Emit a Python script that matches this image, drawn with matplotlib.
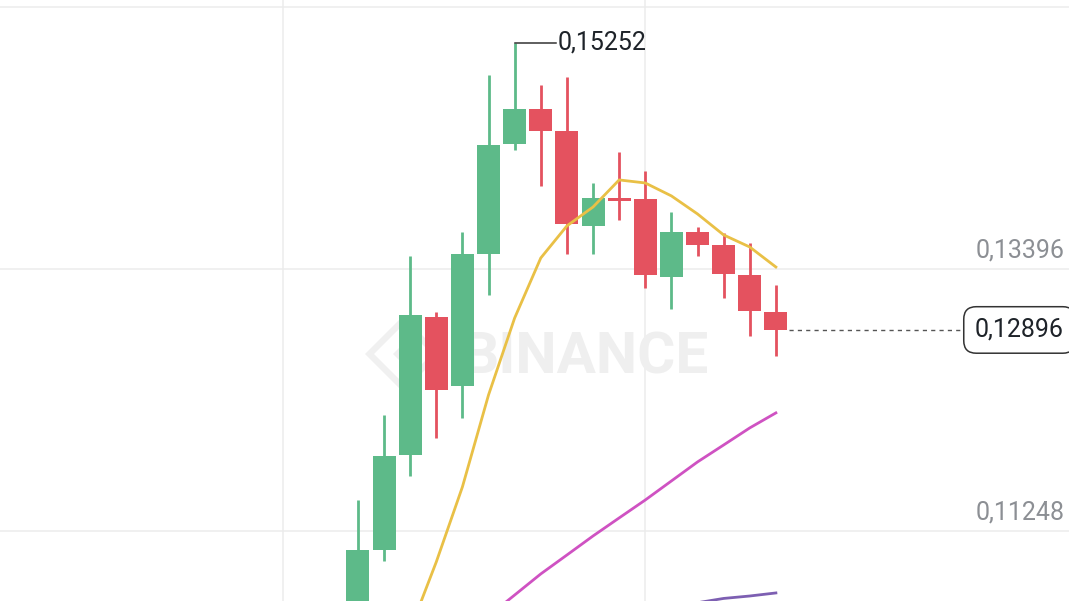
import numpy as np
import matplotlib.pyplot as plt
from matplotlib.patches import Polygon

plt.rcParams['font.family'] = ['Roboto', 'DejaVu Sans']

# candles, index 0 is the leftmost visible candle
opens = [0.1045, 0.11092, 0.11871, 0.13003, 0.12437, 0.13519, 0.14421, 0.14708, 0.14527,
         0.13749, 0.13978, 0.13970, 0.13330, 0.13699, 0.13593, 0.13347, 0.13044]
highs = [0.11502, 0.12199, 0.13503, 0.13044, 0.13699, 0.14986, 0.15252, 0.14904, 0.14970,
         0.14101, 0.14355, 0.14199, 0.13863, 0.13740, 0.13691, 0.13609, 0.13265]
lows = [0.1030, 0.11002, 0.11699, 0.12011, 0.12175, 0.13183, 0.14372, 0.14076, 0.13519,
        0.13519, 0.13798, 0.13240, 0.13068, 0.13503, 0.13158, 0.12847, 0.12683]
closes = [0.11092, 0.11863, 0.13019, 0.12404, 0.13519, 0.14413, 0.14708, 0.14527, 0.13765,
          0.13978, 0.13954, 0.13347, 0.13699, 0.13593, 0.13355, 0.13052, 0.12896]

ma7_idx = [2, 3, 4, 5, 6, 7, 8, 9, 10, 11, 12, 13, 14, 15, 16]
ma7 = [0.10437, 0.10994, 0.11609, 0.12363, 0.12994, 0.13486, 0.13749, 0.13904, 0.14126,
       0.14101, 0.13995, 0.13847, 0.13675, 0.13576, 0.13412]
ma25_idx = [5, 6, 7, 8, 9, 10, 11, 12, 13, 14, 15, 16]
ma25 = [0.10551, 0.10723, 0.10896, 0.11051, 0.11207, 0.11355, 0.11502, 0.11658, 0.11814,
        0.11953, 0.12093, 0.12216]
ma99_idx = [12, 13, 14, 15, 16]
ma99 = [0.10640, 0.10660, 0.10695, 0.10715, 0.10740]

grid_prices = [0.11248, 0.13396, 0.15544]
grid_labels = ['0,11248', '0,13396', '0,15544']
high_label = '0,15252'
last_label = '0,12896'

green = '#5dba89'
red = '#e4525f'

fig = plt.figure(figsize=(10.69, 6.01), dpi=100)
ax = fig.add_axes([0, 0, 1, 1])
ax.set_xlim(-13.70, 27.22)
ax.set_ylim(0.10674, 0.15601)
ax.axis('off')

# grid
for p in grid_prices:
    ax.axhline(p, color='#ececec', lw=1.1, zorder=0)
for gx in [-2.87, 11.0]:
    ax.axvline(gx, color='#ececec', lw=1.1, zorder=0)

# watermark
ax.text(0.547, 0.405, 'BINANCE', transform=fig.transFigure, fontsize=42,
        fontweight='bold', color='#efefef', ha='center', va='center', zorder=0)
cx, cy = 403 / 1069, 1 - 354 / 601
sx, sy = 1 / 1069, 1 / 601
r, w = 38, 9
outer = [(cx - r * sx, cy), (cx, cy + r * sy), (cx + r * sx, cy), (cx, cy - r * sy)]
inner = [(cx - (r - w) * sx, cy), (cx, cy + (r - w) * sy), (cx + (r - w) * sx, cy), (cx, cy - (r - w) * sy)]
fig.add_artist(Polygon(outer, closed=True, fc='#f0f0f0', ec='none', transform=fig.transFigure, zorder=0))
fig.add_artist(Polygon(inner, closed=True, fc='white', ec='none', transform=fig.transFigure, zorder=0))
small = [(cx - 10 * sx, cy), (cx, cy + 10 * sy), (cx + 10 * sx, cy), (cx, cy - 10 * sy)]
fig.add_artist(Polygon(small, closed=True, fc='#f0f0f0', ec='none', transform=fig.transFigure, zorder=0))

# candles
x = np.arange(len(closes))
o = np.array(opens)
c = np.array(closes)
colors = [green if cc >= oo else red for oo, cc in zip(o, c)]
ax.vlines(x, lows, highs, colors=colors, lw=2.0, zorder=3)
body = np.maximum(np.abs(c - o), 0.00025)
ax.bar(x, body, bottom=np.minimum(o, c), width=0.88, color=colors, zorder=4)

# moving averages
ax.plot(ma7_idx, ma7, color='#e9c046', lw=2.0, zorder=5)
ax.plot(ma25_idx, ma25, color='#cf52c2', lw=2.0, zorder=5)
ax.plot(ma99_idx, ma99, color='#7d5fb2', lw=2.0, zorder=5)

# right price labels
for p, lab in zip(grid_prices, grid_labels):
    ax.annotate(lab, xy=(1065 / 1069, p), xycoords=('figure fraction', 'data'),
                xytext=(0, 5), textcoords='offset points', ha='right', va='bottom',
                fontsize=18, color='#8c8f94')

# high marker
hi = int(np.argmax(highs))
ax.plot([hi, hi + 1.6], [highs[hi], highs[hi]], color='#333333', lw=1.1, zorder=6)
ax.text(hi + 1.65, highs[hi], high_label, fontsize=18, color='#1e2329',
        ha='left', va='center', zorder=6)

# last price line and label
ax.plot([len(closes) - 0.5, 23.2], [closes[-1], closes[-1]], color='#555555',
        lw=1.0, ls=(0, (3, 3)), zorder=6)
ax.annotate(last_label, xy=(975 / 1069, closes[-1]), xycoords=('figure fraction', 'data'),
            ha='left', va='center', fontsize=18, color='#1e2329', zorder=7,
            bbox=dict(boxstyle='round,pad=0.45,rounding_size=0.5', fc='white',
                      ec='#333333', lw=1.1))

fig.savefig('out.png', dpi=100)
